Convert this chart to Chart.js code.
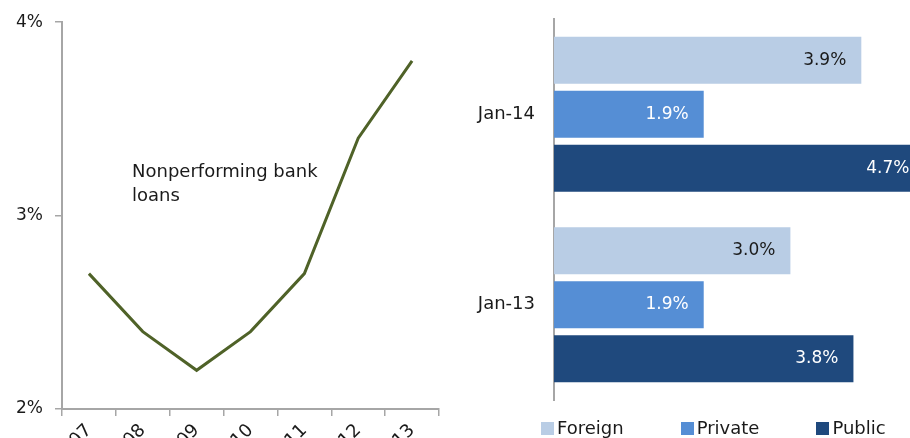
<!DOCTYPE html>
<html lang="en">
<head>
  <meta charset="UTF-8">
  <title>Nonperforming loans</title>
  <script src="https://cdn.jsdelivr.net/npm/chart.js"></script>
  <style>
    body { margin: 0; background: #fff; }
    #wrap { position: relative; width: 910px; height: 438px; overflow: hidden; font-family: "DejaVu Sans", sans-serif; }
    #npl { position: absolute; left: 0; top: 0; }
    #bySector { position: absolute; left: 440px; top: 0; }
    #legend { position: absolute; left: 541px; top: 418px; display: flex; gap: 57px; font-size: 18px; line-height: 20px; color: #1a1a1a; }
    #legend span.box { display: inline-block; width: 13px; height: 13px; margin-right: 3px; vertical-align: -1px; }
  </style>
</head>
<body>
  <div id="wrap">
    <canvas id="npl" width="460" height="480"></canvas>
    <canvas id="bySector" width="508" height="438"></canvas>
    <div id="legend"></div>
  </div>

  <script>
    // Nonperforming bank loans, share of total (%)
    const years = ['2007', '2008', '2009', '2010', '2011', '2012', '2013'];
    const nplRatio = [2.7, 2.4, 2.2, 2.4, 2.7, 3.4, 3.8];
    const nplTicks = [2, 3, 4];

    // NPL ratio by bank ownership (%)
    const dates = ['Jan-14', 'Jan-13'];
    const sectors = ['Foreign', 'Private', 'Public'];
    const foreign = [3.9, 3.0];
    const privateBanks = [1.9, 1.9];
    const publicBanks = [4.7, 3.8];
    const sectorColors = ['#b9cde5', '#558ed5', '#1f497d'];
    const valueColors = ['#1a1a1a', '#ffffff', '#ffffff'];

    const axisGray = '#a6a6a6';
    const textColor = '#1a1a1a';
    const font = 'DejaVu Sans';

    // text note beside the line
    const notePlugin = {
      id: 'note',
      afterDraw(chart) {
        const ctx = chart.ctx;
        const x = chart.scales.x.getPixelForValue(0.8);
        const y = chart.scales.y.getPixelForValue(3.2);
        ctx.save();
        ctx.font = '18px "' + font + '"';
        ctx.fillStyle = textColor;
        ctx.textAlign = 'left';
        ctx.textBaseline = 'alphabetic';
        ctx.fillText('Nonperforming bank', x, y);
        ctx.fillText('loans', x, y + 24);
        ctx.restore();
      }
    };

    new Chart(document.getElementById('npl'), {
      type: 'line',
      data: {
        labels: years,
        datasets: [{
          data: nplRatio,
          borderColor: '#4f6228',
          borderWidth: 3,
          pointRadius: 0,
          tension: 0
        }]
      },
      options: {
        responsive: false,
        animation: false,
        layout: { padding: { top: 22, right: 21, left: 0, bottom: 0 } },
        plugins: { legend: { display: false }, tooltip: { enabled: false } },
        scales: {
          x: {
            offset: true,
            afterFit: s => { s.height = 71; },
            grid: { offset: true, drawOnChartArea: false, tickLength: 7, color: axisGray, lineWidth: 1.5 },
            border: { color: axisGray, width: 2 },
            ticks: { minRotation: 45, maxRotation: 45, padding: 4, color: textColor, font: { family: font, size: 18 } }
          },
          y: {
            min: 2,
            max: 4,
            afterFit: s => { s.width = 62; },
            afterBuildTicks: s => { s.ticks = nplTicks.map(v => ({ value: v })); },
            grid: { drawOnChartArea: false, tickLength: 7, color: axisGray, lineWidth: 1.5 },
            border: { color: axisGray, width: 2 },
            ticks: { padding: 12, color: textColor, font: { family: font, size: 17 }, callback: v => v + '%' }
          }
        }
      },
      plugins: [notePlugin]
    });

    // value labels at the end of each bar
    const barValuePlugin = {
      id: 'barValues',
      afterDatasetsDraw(chart) {
        const ctx = chart.ctx;
        ctx.save();
        ctx.font = '17px "' + font + '"';
        ctx.textAlign = 'right';
        ctx.textBaseline = 'middle';
        chart.data.datasets.forEach((ds, i) => {
          ctx.fillStyle = valueColors[i];
          chart.getDatasetMeta(i).data.forEach((bar, j) => {
            ctx.fillText(ds.data[j].toFixed(1) + '%', bar.x - 15, bar.y);
          });
        });
        ctx.restore();
      }
    };

    const series = [foreign, privateBanks, publicBanks];
    new Chart(document.getElementById('bySector'), {
      type: 'bar',
      data: {
        labels: dates,
        datasets: series.map((vals, i) => ({
          label: sectors[i],
          data: vals,
          backgroundColor: sectorColors[i],
          borderWidth: 0,
          categoryPercentage: 0.85,
          barPercentage: 0.87
        }))
      },
      options: {
        indexAxis: 'y',
        responsive: false,
        animation: false,
        layout: { padding: { top: 19, right: 0, left: 0, bottom: 38 } },
        plugins: { legend: { display: false }, tooltip: { enabled: false } },
        scales: {
          x: { display: false, min: 0, max: 5 },
          y: {
            afterFit: s => { s.width = 114; s.paddingTop = 0; s.paddingBottom = 0; },
            grid: { drawOnChartArea: false, drawTicks: false },
            border: { color: axisGray, width: 2 },
            ticks: { padding: 19, color: textColor, font: { family: font, size: 18 } }
          }
        }
      },
      plugins: [barValuePlugin]
    });

    // legend row under the bars
    const legend = document.getElementById('legend');
    sectors.forEach((name, i) => {
      const item = document.createElement('div');
      item.innerHTML = '<span class="box" style="background:' + sectorColors[i] + '"></span>' + name;
      legend.appendChild(item);
    });
  </script>
</body>
</html>
